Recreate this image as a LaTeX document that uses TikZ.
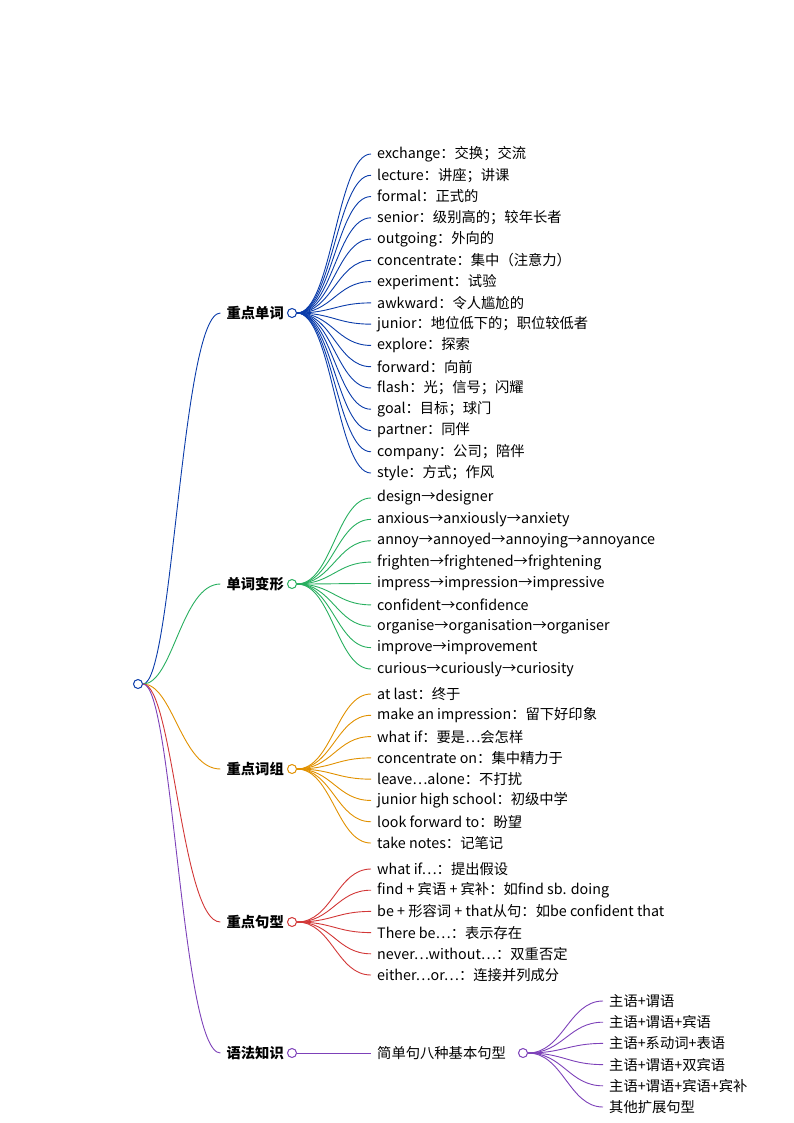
\documentclass[tikz,border=0pt]{standalone}
\usepackage{fontspec}
\setmainfont{Noto Sans CJK SC}
\usetikzlibrary{calc}
\definecolor{cb}{RGB}{10,60,170}\definecolor{cbl}{RGB}{20,90,240}
\definecolor{cg}{RGB}{40,175,95}
\definecolor{co}{RGB}{225,145,0}
\definecolor{cr}{RGB}{210,55,55}
\definecolor{cp}{RGB}{125,65,185}
\tikzset{
 leaf/.style={anchor=west,inner sep=0pt,font=\fontsize{14.3}{16}\selectfont},
 br/.style={anchor=east,inner sep=0pt,font=\fontsize{14.3}{16}\selectfont\bfseries},
 dot/.style={circle,draw=#1,fill=white,line width=1pt,minimum size=9pt,inner sep=0pt},
 ln/.style={draw=#1,line width=0.9pt}
}
\newcommand{\fan}[5]{% node name, color, start y, step, list
 \foreach \t [count=\i from 0] in {#5}{
  \node[leaf] (#1l\i) at (377,{#3+\i*#4}) {\t};
  \draw[ln=#2] (#1.east) .. controls ($(#1.east)+(35,0)$) and ($(#1l\i.west)+(-40,0)$) .. ($(#1l\i.west)+(-6,0)$);
 }}
\begin{document}
\begin{tikzpicture}[x=1pt,y=-1pt]
\useasboundingbox (0,0) rectangle (794,1123);
\node[dot=cb] (root) at (138,684) {};
\foreach \n/\y/\c/\t in {a/313/cb/重点单词,b/584/cg/单词变形,c/769/co/重点词组,d/922/cr/重点句型,e/1053/cp/语法知识}{
 \node[dot=\c] (\n) at (292,\y) {};
 \node[br] (\n t) at (284,\y) {\t};
 \draw[ln=\c] (root.east) .. controls ($(root.east)+(30,0)$) and ($(\n t.west)+(-45,0)$) .. ($(\n t.west)+(-6,0)$);
}
\fan{a}{cb}{154}{21.27}{exchange：交换；交流,lecture：讲座；讲课,formal：正式的,senior：级别高的；较年长者,outgoing：外向的,concentrate：集中（注意力）,experiment：试验,awkward：令人尴尬的,junior：地位低下的；职位较低者,explore：探索,forward：向前,flash：光；信号；闪耀,goal：目标；球门,partner：同伴,company：公司；陪伴,style：方式；作风}
\fan{b}{cg}{498}{21.375}{design→designer,anxious→anxiously→anxiety,annoy→annoyed→annoying→annoyance,frighten→frightened→frightening,impress→impression→impressive,confident→confidence,organise→organisation→organiser,improve→improvement,curious→curiously→curiosity}
\fan{c}{co}{694}{21.29}{at last：终于,make an impression：留下好印象,what if：要是…会怎样,concentrate on：集中精力于,leave…alone：不打扰,junior high school：初级中学,look forward to：盼望,take notes：记笔记}
\fan{d}{cr}{869}{21.2}{what if…：提出假设,find + 宾语 + 宾补：如find sb. doing,be + 形容词 + that从句：如be confident that,There be…：表示存在,never…without…：双重否定,either…or…：连接并列成分}
\node[leaf] (e1) at (377,1053) {简单句八种基本句型};
\draw[ln=cp] (e.east) -- ($(e1.west)+(-6,0)$);
\node[dot=cp] (f) at (523,1053) {};
\foreach \t [count=\i from 0] in {主语+谓语,主语+谓语+宾语,主语+系动词+表语,主语+谓语+双宾语,主语+谓语+宾语+宾补,其他扩展句型}{
 \node[leaf] (fl\i) at (609,{1001+\i*21.2}) {\t};
 \draw[ln=cp] (f.east) .. controls ($(f.east)+(35,0)$) and ($(fl\i.west)+(-40,0)$) .. ($(fl\i.west)+(-6,0)$);
}
\end{tikzpicture}
\end{document}
